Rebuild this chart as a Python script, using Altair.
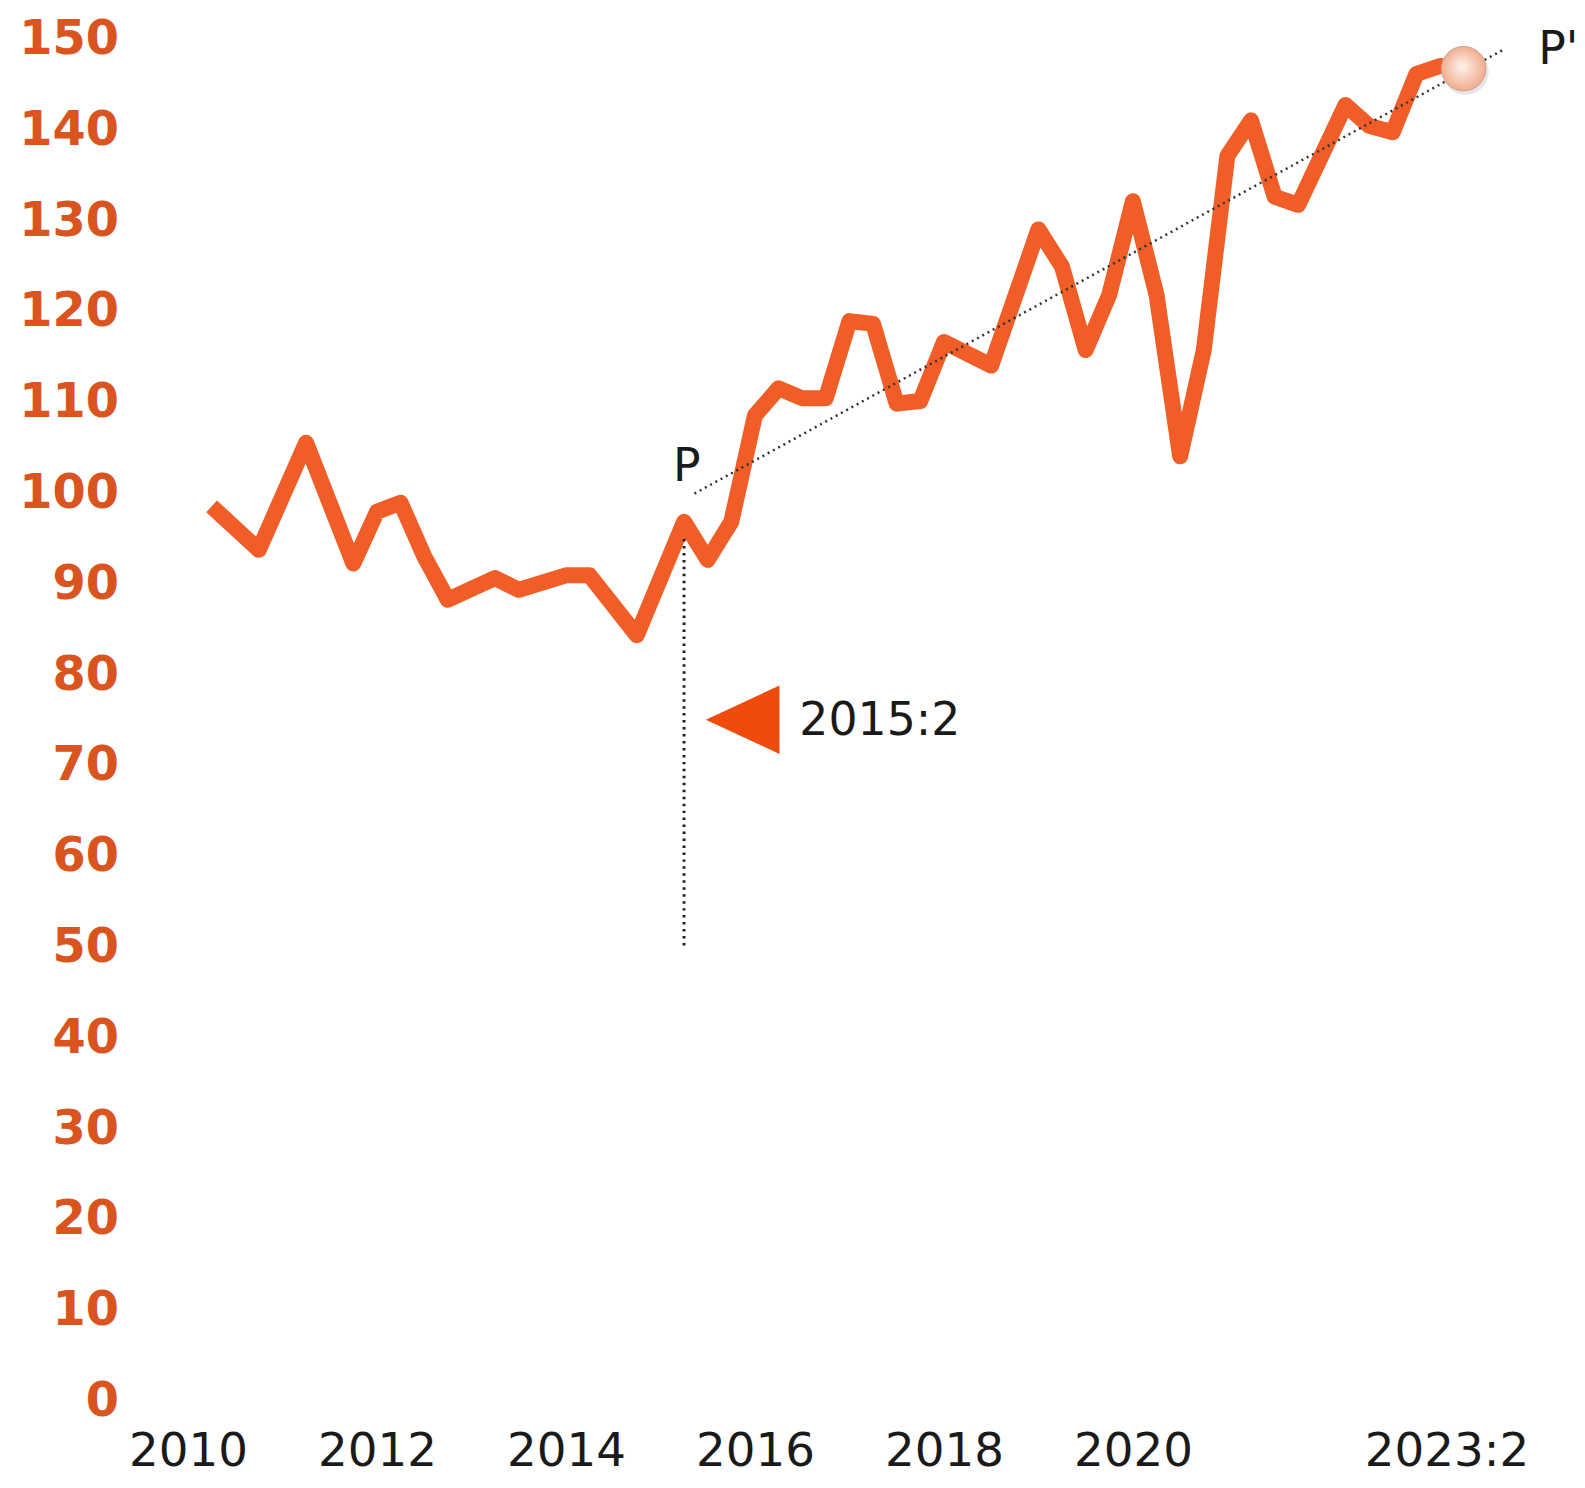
import altair as alt
import pandas as pd

# ---- data ----
quarters = [2010.25, 2010.75, 2011.25, 2011.75, 2012.0, 2012.25, 2012.5, 2012.75,
            2013.25, 2013.5, 2014.0, 2014.25, 2014.75, 2015.25, 2015.5, 2015.75,
            2016.0, 2016.25, 2016.5, 2016.75, 2017.0, 2017.25, 2017.5, 2017.75,
            2018.0, 2018.5, 2019.0, 2019.25, 2019.5, 2019.75, 2020.0, 2020.25,
            2020.5, 2020.75, 2021.0, 2021.25, 2021.5, 2021.75, 2022.25, 2022.5,
            2022.75, 2023.0, 2023.25, 2023.5]
values = [98.6, 93.8, 105.6, 92.3, 98.0, 99.0, 93.1, 88.3,
          90.7, 89.4, 91.0, 91.0, 84.4, 96.9, 92.7, 96.9,
          108.6, 111.6, 110.5, 110.5, 119.0, 118.7, 109.9, 110.2,
          116.7, 114.1, 129.1, 125.0, 115.8, 121.9, 132.2, 121.9,
          104.1, 115.8, 137.2, 141.1, 132.7, 131.8, 142.8, 140.5,
          139.8, 146.2, 147.1, 146.8]

y_ticks = list(range(0, 151, 10))
x_ticks = [2010, 2012, 2014, 2016, 2018, 2020, 2023.32]

trend_x = [2015.36, 2023.94]
trend_y = [100.0, 149.0]

marker_x = 2015.25          # 2015:2
marker_top = 95.0
marker_bottom = 50.0

end_x = 2023.5
end_y = 146.8

labels_text = ["P", "P'", "2015:2"]
labels_x = [2015.28, 2024.29, 2016.47]
labels_y = [102.9, 148.9, 75.0]
labels_align = ["center", "left", "left"]

flag_x = 2015.87
flag_y = 75.1

ORANGE = "#F05D27"
LABEL_ORANGE = "#D9541E"
TEXT = "#1a1a1a"

xscale = alt.Scale(domain=[2009.38, 2024.70], nice=False, zero=False)
yscale = alt.Scale(domain=[0, 150], nice=False, zero=False)

xaxis = alt.Axis(values=x_ticks,
                 labelExpr="datum.value > 2023 ? '2023:2' : toString(datum.value)",
                 labelFont="DejaVu Sans", labelFontSize=47, labelColor=TEXT,
                 labelBaseline="alphabetic", labelPadding=64,
                 ticks=False, tickSize=0, domain=False, grid=False,
                 labelOverlap=False, labelFlush=False, title=None)
yaxis = alt.Axis(values=y_ticks, labelFont="DejaVu Sans", labelFontSize=48,
                 labelFontWeight="bold", labelColor=LABEL_ORANGE,
                 labelPadding=11, ticks=False, tickSize=0, domain=False,
                 grid=False, labelOverlap=False, title=None)


def X(field="x"):
    return alt.X(field, type="quantitative", scale=xscale, axis=xaxis)


def Y(field="y"):
    return alt.Y(field, type="quantitative", scale=yscale, axis=yaxis)


df_line = pd.DataFrame({"x": quarters, "y": values})
df_trend = pd.DataFrame({"x": trend_x, "y": trend_y})
df_vert = pd.DataFrame({"x": [marker_x], "y": [marker_top], "y2": [marker_bottom]})
df_end = pd.DataFrame({"x": [end_x], "y": [end_y]})
df_flag = pd.DataFrame({"x": [flag_x], "y": [flag_y]})
df_lab = pd.DataFrame({"x": labels_x, "y": labels_y, "t": labels_text, "a": labels_align})

line = alt.Chart(df_line).mark_line(
    color=ORANGE, strokeWidth=16, strokeJoin="round", strokeCap="butt"
).encode(x=X(), y=Y())

trend = alt.Chart(df_trend).mark_line(
    color="#333333", strokeWidth=2.5, strokeDash=[2, 4]
).encode(x=X(), y=Y())

vert = alt.Chart(df_vert).mark_rule(
    color="#222222", strokeWidth=3, strokeDash=[2.5, 4.5]
).encode(x=X(), y=Y(), y2="y2")

shadow = alt.Chart(df_end).mark_point(
    filled=True, shape="circle", size=2150, color="#999999", opacity=0.25,
    xOffset=2, yOffset=3
).encode(x=X(), y=Y())

endpt = alt.Chart(df_end).mark_point(
    filled=True, shape="circle", size=2000, opacity=1,
    fill=alt.RadialGradient(
        gradient="radial",
        stops=[alt.GradientStop(offset=0, color="#FFF3EC"),
               alt.GradientStop(offset=1, color="#EFA585")],
        x1=0.45, y1=0.45, r1=0, x2=0.5, y2=0.5, r2=0.55),
    stroke="#C9A294", strokeWidth=1
).encode(x=X(), y=Y())

flag = alt.Chart(df_flag).mark_point(
    filled=True, shape="M-1,0L1,-0.93L1,0.93Z", size=5476,
    color="#F04A0C", opacity=1
).encode(x=X(), y=Y())

lab_c = alt.Chart(df_lab).transform_filter("datum.a == 'center'").mark_text(
    font="DejaVu Sans", fontSize=46, color=TEXT, align="center", baseline="middle"
).encode(x=X(), y=Y(), text="t:N")

lab_l = alt.Chart(df_lab).transform_filter("datum.a == 'left'").mark_text(
    font="DejaVu Sans", fontSize=46, color=TEXT, align="left", baseline="middle"
).encode(x=X(), y=Y(), text="t:N")

chart = alt.layer(line, vert, trend, shadow, endpt, flag, lab_c, lab_l).properties(
    width=1455, height=1369,
    padding={"left": 122, "top": 28, "right": 0, "bottom": 75},
    autosize=alt.AutoSizeParams(type="none"),
    background="white",
).configure_view(stroke="transparent")

chart.save("out.html", embed_options={"renderer": "svg", "actions": False})
